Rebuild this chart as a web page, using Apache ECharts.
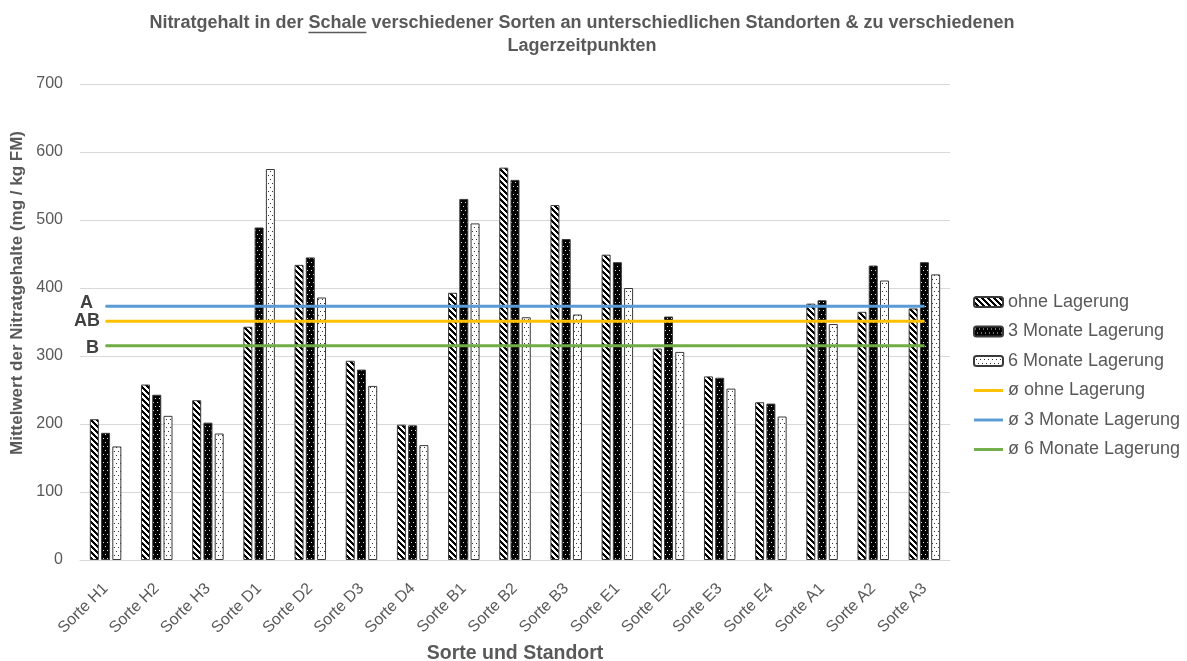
<!DOCTYPE html>
<html>
<head>
<meta charset="utf-8">
<script src="https://cdn.jsdelivr.net/npm/echarts@6/dist/echarts.min.js"></script>
<style>
  html, body { margin: 0; padding: 0; background: #fff; }
  #chart { width: 1187px; height: 661px; }
</style>
</head>
<body>
<div id="chart"></div>
<script>
// Werte (mg / kg FM)
const categories = ['Sorte H1', 'Sorte H2', 'Sorte H3', 'Sorte D1', 'Sorte D2', 'Sorte D3', 'Sorte D4',
  'Sorte B1', 'Sorte B2', 'Sorte B3', 'Sorte E1', 'Sorte E2', 'Sorte E3', 'Sorte E4',
  'Sorte A1', 'Sorte A2', 'Sorte A3']
const ohneLagerung = [207, 258, 235, 343, 434, 293, 199, 393, 577, 522, 449, 311, 270, 232, 377, 365, 370]
const dreiMonate = [187, 243, 202, 489, 445, 280, 198, 531, 559, 472, 438, 358, 268, 230, 382, 433, 438]
const sechsMonate = [167, 212, 186, 575, 386, 256, 169, 495, 357, 361, 400, 306, 252, 211, 347, 411, 420]

// Mittelwerte (horizontale Linien) und Signifikanzbuchstaben
const meanNames = ['ø ohne Lagerung', 'ø 3 Monate Lagerung', 'ø 6 Monate Lagerung']
const meanValues = [351, 373, 315]
const meanLetters = ['AB', 'A', 'B']

const FONT = 'Liberation Sans, Arial, sans-serif'
const GREY = '#595959'

// kleine Kacheln als Füllmuster (Schraffur / Punkte)
const makePattern = (w, h, bg, fg, hit) => {
  const c = document.createElement('canvas')
  c.width = w
  c.height = h
  const ctx = c.getContext('2d')
  ctx.fillStyle = bg
  ctx.fillRect(0, 0, w, h)
  ctx.fillStyle = fg
  for (let y = 0; y < h; y++) {
    for (let x = 0; x < w; x++) {
      if (hit(x, y)) ctx.fillRect(x, y, 1, 1)
    }
  }
  return c
}

const stripes = makePattern(6, 6, '#fff', '#000', (x, y) => ((x - y + 6) % 6) < 3)
const blackDots = makePattern(4, 8, '#000', '#e0e0e0', (x, y) => (x === 1 && y === 2) || (x === 3 && y === 6))
const whiteDots = makePattern(4, 8, '#fff', '#333', (x, y) => (x === 2 && y === 3) || (x === 0 && y === 7))

const barSeries = (name, data, pattern) => ({
  name,
  type: 'bar',
  data,
  barWidth: 9,
  barGap: '25%',
  itemStyle: {
    color: { image: pattern, repeat: 'repeat' },
    borderColor: '#3a3a3a',
    borderWidth: 1
  },
  emphasis: { disabled: true }
})

const lineColors = ['#ffc000', '#5b9bd5', '#70ad47']
const letterOffsets = [[-2, 0], [-9, -3], [-3, 2]]

const meanSeries = (i) => ({
  name: meanNames[i],
  type: 'line',
  data: categories.map((c, j) =>
    j === 0
      ? { value: meanValues[i], label: { show: true, formatter: meanLetters[i], offset: letterOffsets[i] } }
      : meanValues[i]
  ),
  symbol: 'circle',
  symbolSize: 1,
  showSymbol: true,
  lineStyle: { color: lineColors[i], width: 3 },
  itemStyle: { color: lineColors[i] },
  label: {
    show: false,
    position: 'left',
    distance: 3,
    fontFamily: FONT,
    fontSize: 18,
    fontWeight: 'bold',
    color: '#404040'
  },
  emphasis: { disabled: true },
  silent: true,
  z: 5
})

const lineIcon = 'path://M0,0H30V3H0Z'

const chart = echarts.init(document.getElementById('chart'))

const titleLine1 = 'Nitratgehalt in der Schale verschiedener Sorten an unterschiedlichen Standorten & zu verschiedenen'
const titleLine2 = 'Lagerzeitpunkten'
const titleFont = 'bold 18px ' + FONT
const titleCenter = 582
const titleTop = 12

// Unterstreichung von "Schale" aus Textbreiten berechnen
const measure = document.createElement('canvas').getContext('2d')
measure.font = titleFont
const fullW = measure.measureText(titleLine1).width
const preW = measure.measureText('Nitratgehalt in der ').width
const schaleW = measure.measureText('Schale').width
const ulX = titleCenter - fullW / 2 + preW

chart.setOption({
  animation: false,
  textStyle: { fontFamily: FONT },
  title: {
    text: titleLine1 + '\n' + titleLine2,
    left: titleCenter,
    top: titleTop,
    padding: 0,
    textAlign: 'center',
    textStyle: { fontFamily: FONT, fontSize: 18, fontWeight: 'bold', color: GREY, lineHeight: 23 }
  },
  graphic: [{
    type: 'line',
    shape: { x1: ulX, y1: titleTop + 20.5, x2: ulX + schaleW, y2: titleTop + 20.5 },
    style: { stroke: GREY, lineWidth: 1.3 },
    silent: true
  }],
  legend: {
    orient: 'vertical',
    left: 973,
    top: 293,
    padding: 0,
    itemWidth: 29,
    itemHeight: 10,
    itemGap: 11.5,
    textStyle: { fontFamily: FONT, fontSize: 18, color: GREY },
    data: [
      { name: 'ohne Lagerung' },
      { name: '3 Monate Lagerung' },
      { name: '6 Monate Lagerung' },
      { name: meanNames[0], icon: lineIcon },
      { name: meanNames[1], icon: lineIcon },
      { name: meanNames[2], icon: lineIcon }
    ]
  },
  grid: { left: 80, right: 237, top: 84, bottom: 101, outerBoundsMode: 'none' },
  xAxis: {
    type: 'category',
    data: categories,
    axisTick: { show: false },
    axisLine: { lineStyle: { color: '#d9d9d9', width: 1 } },
    axisLabel: { rotate: 45, interval: 0, fontSize: 16, color: GREY, margin: 26 },
    name: 'Sorte und Standort',
    nameLocation: 'middle',
    nameGap: 82,
    nameTextStyle: { fontFamily: FONT, fontSize: 19.5, fontWeight: 'bold', color: GREY }
  },
  yAxis: {
    type: 'value',
    min: 0,
    max: 700,
    interval: 100,
    axisLine: { show: false },
    axisTick: { show: false },
    axisLabel: { fontSize: 16, color: GREY, margin: 17 },
    splitLine: { lineStyle: { color: '#d9d9d9' } },
    name: 'Mittelwert der Nitratgehalte (mg / kg FM)',
    nameLocation: 'middle',
    nameGap: 48,
    nameTextStyle: { fontFamily: FONT, fontSize: 17, fontWeight: 'bold', color: GREY, padding: [0, 0, 0, 58] }
  },
  series: [
    barSeries('ohne Lagerung', ohneLagerung, stripes),
    barSeries('3 Monate Lagerung', dreiMonate, blackDots),
    barSeries('6 Monate Lagerung', sechsMonate, whiteDots),
    meanSeries(0),
    meanSeries(1),
    meanSeries(2)
  ]
})

window.addEventListener('resize', () => chart.resize())
</script>
</body>
</html>
